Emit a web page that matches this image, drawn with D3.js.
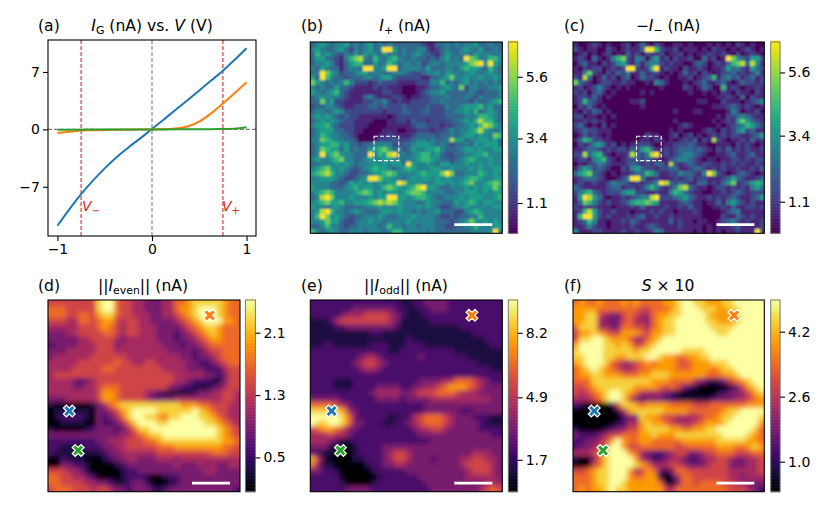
<!DOCTYPE html>
<html>
<head>
<meta charset="utf-8">
<script src="https://cdn.jsdelivr.net/npm/d3@7"></script>
<style>
body { margin: 0; background: white; }
svg text { font-family: "DejaVu Sans", sans-serif; fill: #000; white-space: pre; }
</style>
</head>
<body>
<div id="graph"></div>
<script>
const width = 830, height = 516;

// curves of panel (a)
const voltage  = [-1, -.875, -.75, -.625, -.5, -.375, -.25, -.125, 0, .125, .25, .375, .5, .625, .75, .875, 1];
const blueI    = [-11.75, -9.75, -7.9, -6.25, -4.75, -3.4, -2.2, -1.1, 0.05, 1.2, 2.4, 3.55, 4.75, 5.95, 7.15, 8.5, 9.9];
const orangeI  = [-.45, -.3, -.15, -.11, -.08, -.05, -.03, -.01, 0, .01, .1, .35, .95, 1.95, 3.15, 4.45, 5.75];
const greenI   = [-.03, -.03, -.03, -.02, -.02, -.01, -.01, -.01, 0, 0, .01, .01, .02, .03, .05, .08, .25];
const xTicksA = [-1, 0, 1], yTicksA = [-7, 0, 7];
const vMinus = -0.75, vPlus = 0.75;

// map levels 0-9, spanning each colorbar's range
const plusRows = [
"3454344534 3453434333 3332113343 4344533433",
"4543345324 3453499534 3344212343 3454353343",
"3645432435 3544353434 3453321354 3443544434",
"3553321467 8436435643 3433232453 4397644664",
"3445421356 6335346534 4342344344 4457895954",
"4354331344 3994459934 4443533344 3565543643",
"3497542334 5534433444 3223445354 4345434543",
"5396433233 3443455322 2221133457 4454454454",
"7543434642 2212322211 1122244634 3453434343",
"4343353321 1112121110 0011233454 3724433445",
"5434563211 1111122110 0012344533 3334323334",
"3454443211 1342111221 0112233343 3343243334",
"3374522111 1223342121 1222233433 3332433456",
"2334432112 2233232223 2222322243 3455564533",
"3443454222 2222212223 3223322233 4454634543",
"4545432322 1111110122 2222222233 3344466543",
"3454543221 1110001122 1322122223 3454686643",
"4556432221 1100001111 1233222122 3345468754",
"3455533221 1000011100 1122212234 3445685434",
"3465443321 0000112111 1233332334 3455454476",
"4476544332 0001222322 2344343348 5534455453",
"3455664533 2334444223 3455543432 3343545553",
"3476553534 3355675342 3544556433 3455454455",
"3495675443 3394658944 3456645322 3344556444",
"4544567443 3454455443 4456654332 3456544544",
"3344454543 4445454553 9544543553 4454454544",
"4567545432 3456554345 6544455445 4445454455",
"5678644322 3345567644 4456555797 3344465454",
"4455543223 4599755443 4545545454 4456654455",
"4444332354 5454545598 5454445545 4567445676",
"5444333456 4554467654 5689554334 4454545575",
"4567644445 6764545545 6776444433 4455545455",
"3489744454 4454559955 4566543344 4545554456",
"4567556445 5567878754 4434544333 5456545544",
"5443454333 3444544454 4454543223 4454444455",
"4589644345 4333455454 4343445333 2245654444",
"4697454323 3444543344 4544443223 2334464444",
"4457553223 4454434444 5444443332 3457545454",
"3346443233 4444346443 4434443322 3344644455",
"6434543344 4344434664 4444343333 3334444494"];

const minusRows = [
"1001210100 1201310210 0110100010 1010210100",
"2101100210 1211399621 1201110102 1101012101",
"0120101201 0312021120 1120101121 1210201210",
"1210310146 7214303512 0211200312 0197432552",
"0231102124 5213134421 2110023201 2136783841",
"1021220121 2992126912 1102112101 1253421532",
"1147210213 2411312210 1013120210 1223121241",
"2183013120 2301322101 0011201236 1342312312",
"7321012211 2110010431 0001012311 2310132212",
"1201242101 0100000010 0002101320 0612101121",
"2120231010 0000101000 0000100101 0210211021",
"1221310100 0000000000 0000000000 1121030211",
"1263210000 0011200000 0000001100 0211101234",
"0213101000 0000100000 0000000001 1123212101",
"1021320100 0000000000 0100011000 0014201120",
"2201101010 0000000000 0000000000 1022343211",
"1121211000 0000000000 0100000001 0121575321",
"2310102010 0000000000 0012100000 1012346532",
"1232211100 0000000000 1010000121 0212452311",
"0131210100 0000021100 1201201012 1212211235",
"1365221100 0000110210 1012130218 2101121312",
"0212453120 1012221001 1222321100 1110212101",
"1123321212 2132563112 1233323210 2131212112",
"2283562101 1283248912 1234432100 1123112311",
"1221456210 1223232101 2344321011 0112212122",
"0102243211 1232121331 8212321221 1212121121",
"1354232100 2145322122 3311233212 1211211213",
"3567321010 1123365311 2243321497 2101232101",
"1233321001 2499411211 1212312211 1235321123",
"1211211243 3212123498 3232113312 1357123565",
"3211111233 1221246421 2478321101 2212121453",
"2456321222 4552211211 4653211001 1212321222",
"1598531011 2123448922 2345321121 2123211235",
"1376421211 2356676511 1123211011 3145321211",
"2121211101 1121311112 1121311001 1213112212",
"1268521121 1101112121 1011121000 0123411111",
"1699521211 1212311211 2111111000 0211321211",
"1236411011 2132111111 3121101100 1234212112",
"1124211011 1121123211 1121111010 1112311112",
"4111221111 2112112431 1111101010 1011211192"];

const evenRows = [
"55555555 89965544 33344667 88888766",
"66655555 89965544 33344677 89998766",
"66655665 78865544 43344567 89998766",
"55544665 67754554 43333456 78999776",
"44444555 67654554 44333345 67887666",
"33344555 56654554 44333234 56787666",
"33333445 55543444 44333233 45677666",
"23333444 55534444 44433323 34566666",
"33344444 55544444 44443333 23455666",
"34444445 55555444 44444433 23345666",
"44444555 55565544 55444443 32234566",
"44445555 56655555 55544443 33222455",
"45555555 55555555 55555444 44332355",
"44443234 55555555 55555443 22211355",
"44443344 56665555 55553322 11123455",
"44444444 57765555 43211111 23344554",
"33344444 57765555 43333444 44444554",
"10000001 34678888 88888877 76655544",
"01111110 33457899 99888888 98765544",
"01222210 32346899 88768899 98876544",
"00111100 32234689 99889999 99887654",
"10000012 33323468 89999999 99998765",
"33333333 33334456 78899999 99998765",
"22222222 33444555 66788888 88888776",
"22111122 23344555 55666777 77777665",
"21111111 12334444 44555555 55566655",
"00211100 01233443 33444344 44444444",
"00332210 00012333 33333433 34343344",
"55544310 00001223 33333333 33443333",
"66554432 00001222 10012233 33333333",
"66555544 33211233 20001233 33333333",
"56665554 55433233 32123333 33333332"];

const oddRows = [
"22222222 22222221 12233332 22222222",
"22222223 33333322 11223332 22222222",
"22222344 45555432 11122222 22222222",
"11124555 55555431 11112222 22222222",
"11112233 33333321 11111111 12222222",
"11111111 11221111 11111111 11122222",
"11111111 11111111 21111111 11111222",
"11221111 11222111 22211111 11111122",
"22222222 22222112 22222222 11111111",
"22222222 34432222 22322222 22111111",
"22222223 45543222 22222222 22221111",
"22222222 34432222 22222222 22222211",
"22222222 22222222 22222222 22222222",
"22221112 22222222 22333344 66654322",
"22221112 22233332 23344567 77654333",
"22222222 22344443 34555666 54443333",
"33333222 22233332 33334444 44444433",
"66665432 22222222 22233333 33333333",
"88888743 22222222 22233333 32233333",
"99999863 22222112 24566654 33322211",
"98899863 32221122 34566654 33332111",
"56776533 22222222 23445543 33332222",
"44454432 22222222 22333333 33333322",
"44432112 22222222 22223333 33333333",
"33311001 22223333 33333333 33333333",
"22110001 22223455 43333333 33344433",
"74100001 12223455 43332333 34455443",
"63110000 01223344 33333333 34555543",
"33221000 00122222 33333333 33455543",
"22222000 00012222 22333333 33444443",
"22222100 00122222 22233333 33333444",
"22222233 33222222 22223333 33334565"];

const entropyRows = [
"67667666 76766667 78998877 78899999",
"77776666 66655666 78999888 77889999",
"77885433 56544677 88999987 77789999",
"77884333 56443678 89999988 77789999",
"68884433 66554678 89999998 88899999",
"57787655 77765778 89999999 88999999",
"58899877 76446789 99999999 99999999",
"79999887 87557899 99999999 99999999",
"89999888 88788999 99888899 99999999",
"88999887 78889987 76677889 99999999",
"78999865 44567677 76567778 88999999",
"67898765 44566777 76667776 78899999",
"67788777 66677888 77777766 67789999",
"66688888 88888777 66664321 23567899",
"55678888 88777765 65321000 00135789",
"54567899 87644443 21000000 12334578",
"44456899 85323332 21111112 33344567",
"21000015 88767777 66665556 66666777",
"00000001 47888887 77766666 67889999",
"00000000 23387765 54444566 78899998",
"00000001 24478776 54445677 78999997",
"10000123 35578888 77667788 99999986",
"32223455 66677877 78888888 89999876",
"22334579 76677666 66777777 88888776",
"23345699 75566666 65566666 77766787",
"44456899 97643223 45533455 66655566",
"10036899 99743223 44322344 55433445",
"00056899 99876444 55433345 55333445",
"55678899 97457631 36655555 55444445",
"66678899 97667710 14665555 55443444",
"66678899 87777761 03665666 65544333",
"67677898 87777775 46666666 66555432"];

// colorbar ranges and ticks
const plusRange = [0.02, 6.84], plusTicks = [1.1, 3.4, 5.6];
const minusRange = [0, 6.66], minusTicks = [1.1, 3.4, 5.6];
const evenRange = [0.06, 2.52], evenTicks = [0.5, 1.3, 2.1];
const oddRange = [0.07, 9.88], oddTicks = [1.7, 4.9, 8.2];
const entropyRange = [0.26, 4.98], entropyTicks = [1.0, 2.6, 4.2];

// markers, dashed box and scale bar in fractions of the map
const markers = [
  {u: .111, v: .579, color: "#1f77b4"},
  {u: .842, v: .080, color: "#ff7f0e"},
  {u: .157, v: .785, color: "#2ca02c"}
];
const boxU = [.332, .461], boxV = [.493, .620];
const barU = [.750, .948], barV = .955;

const svg = d3.select("#graph").append("svg")
    .attr("width", width)
    .attr("height", height);

const defs = svg.append("defs");
const fontSize = 14, titleSize = 15.6;

function addBlur(id, sd) {
    defs.append("filter").attr("id", id)
        .attr("x", "-10%").attr("y", "-10%").attr("width", "120%").attr("height", "120%")
        .append("feGaussianBlur").attr("stdDeviation", sd);
}
addBlur("blurFine", 1.2);
addBlur("blurCoarse", 2.4);

// parts: [text, "i" italic | "s" subscript | "n"]
function richText(x, y, parts, size, color, anchor) {
    const t = svg.append("text")
        .attr("x", x).attr("y", y)
        .attr("text-anchor", anchor || "middle")
        .style("font-size", size + "px");
    if (color) t.style("fill", color);
    let low = false;
    parts.forEach(p => {
        const sub = p[1] === "s";
        const s = t.append("tspan").text(p[0]);
        if (color) s.style("fill", color);
        if (p[1] === "i") s.style("font-style", "italic");
        if (sub) s.style("font-size", (size * 0.7) + "px");
        if (sub !== low) s.attr("dy", sub ? size * 0.2 : -size * 0.2);
        low = sub;
    });
}

function styleAxis(g) {
    g.selectAll("path").attr("stroke", "#000").attr("stroke-width", 1.1);
    g.selectAll("line").attr("stroke", "#000").attr("stroke-width", 1.1);
    g.selectAll("text").style("font-size", fontSize + "px");
}

// panel (a)
function drawCurves() {
    const left = 48, right = 256, top = 40, bottom = 236;
    const x = d3.scaleLinear().domain([-1.1, 1.1]).range([left, right]);
    const y = d3.scaleLinear().domain([-13, 10.9]).range([bottom, top]);

    const refs = svg.append("g").attr("fill", "none").attr("stroke-width", 1.1);
    refs.append("line").attr("x1", left).attr("x2", right).attr("y1", y(0)).attr("y2", y(0))
        .attr("stroke", "#7f7f7f").attr("stroke-dasharray", "4,2");
    refs.append("line").attr("x1", x(0)).attr("x2", x(0)).attr("y1", top).attr("y2", bottom)
        .attr("stroke", "#7f7f7f").attr("stroke-dasharray", "4,2");
    [vMinus, vPlus].forEach(v => {
        refs.append("line").attr("x1", x(v)).attr("x2", x(v)).attr("y1", top).attr("y2", bottom)
            .attr("stroke", "#d62728").attr("stroke-dasharray", "4,2");
    });

    const line = d3.line()
        .x(d => x(d[0]))
        .y(d => y(d[1]))
        .curve(d3.curveMonotoneX);
    [[blueI, "#1f77b4"], [orangeI, "#ff7f0e"], [greenI, "#2ca02c"]].forEach(s => {
        svg.append("path")
            .attr("d", line(d3.zip(voltage, s[0])))
            .attr("fill", "none")
            .attr("stroke", s[1])
            .attr("stroke-width", 2);
    });

    svg.append("rect").attr("x", left).attr("y", top)
        .attr("width", right - left).attr("height", bottom - top)
        .attr("fill", "none").attr("stroke", "#000").attr("stroke-width", 1.1);

    svg.append("g").attr("transform", `translate(0,${bottom})`)
        .call(d3.axisBottom(x).tickValues(xTicksA).tickSize(5).tickPadding(3)
            .tickFormat(d => d3.format("d")(d).replace("-", "\u2212")))
        .call(styleAxis).call(g => g.select(".domain").remove());
    svg.append("g").attr("transform", `translate(${left},0)`)
        .call(d3.axisLeft(y).tickValues(yTicksA).tickSize(5).tickPadding(3)
            .tickFormat(d => d3.format("d")(d).replace("-", "\u2212")))
        .call(styleAxis).call(g => g.select(".domain").remove());

    richText(x(vMinus) + 1, y(-10), [["V", "i"], ["\u2212", "s"]], 14, "#d62728", "start");
    richText(x(vPlus) - 1, y(-10), [["V", "i"], ["+", "s"]], 14, "#d62728", "start");
}

// one map panel with its colorbar
function drawMap(opt) {
    const rows = opt.rows.map(r => r.replace(/ /g, ""));
    const nRows = rows.length, nCols = rows[0].length;
    const size = opt.size, px = opt.x, py = opt.y;
    const xBand = d3.scaleBand().domain(d3.range(nCols)).range([px, px + size]);
    const yBand = d3.scaleBand().domain(d3.range(nRows)).range([py, py + opt.sizeY]);
    const level = d3.scaleLinear().domain([0, 9]).range(opt.range);
    const color = d3.scaleSequential(opt.cmap).domain(opt.range);
    const u = d3.scaleLinear().domain([0, 1]).range([px, px + size]);
    const v = d3.scaleLinear().domain([0, 1]).range([py, py + opt.sizeY]);

    const cells = [];
    rows.forEach((r, j) => r.split("").forEach((c, i) => cells.push({i, j, value: level(+c)})));

    const clipId = "clip" + opt.id;
    defs.append("clipPath").attr("id", clipId).append("rect")
        .attr("x", px).attr("y", py).attr("width", size).attr("height", opt.sizeY);

    // edge cells run past the frame so the blur does not fade at the border
    const pad = 12;
    svg.append("g").attr("clip-path", `url(#${clipId})`)
        .append("g").attr("filter", `url(#${opt.blur})`)
        .selectAll("rect").data(cells).join("rect")
        .attr("x", d => xBand(d.i) - (d.i === 0 ? pad : 0))
        .attr("y", d => yBand(d.j) - (d.j === 0 ? pad : 0))
        .attr("width", d => xBand.bandwidth() + 0.6 + (d.i === 0 || d.i === nCols - 1 ? pad : 0))
        .attr("height", d => yBand.bandwidth() + 0.6 + (d.j === 0 || d.j === nRows - 1 ? pad : 0))
        .attr("shape-rendering", "crispEdges")
        .attr("fill", d => color(d.value));

    svg.append("rect").attr("x", px).attr("y", py).attr("width", size).attr("height", opt.sizeY)
        .attr("fill", "none").attr("stroke", "#000").attr("stroke-width", 1.1);

    if (opt.box) {
        svg.append("rect")
            .attr("x", u(boxU[0])).attr("y", v(boxV[0]))
            .attr("width", u(boxU[1]) - u(boxU[0])).attr("height", v(boxV[1]) - v(boxV[0]))
            .attr("fill", "none").attr("stroke", "white").attr("stroke-width", 1.1)
            .attr("stroke-dasharray", "4,2");
    }

    svg.append("line")
        .attr("x1", u(barU[0])).attr("x2", u(barU[1]))
        .attr("y1", v(barV)).attr("y2", v(barV))
        .attr("stroke", "white").attr("stroke-width", 2.8);

    if (opt.markers) {
        const symbol = d3.symbol().type(d3.symbolCross).size(88);
        svg.selectAll(null).data(markers).enter().append("path")
            .attr("d", symbol)
            .attr("transform", d => `translate(${u(d.u)},${v(d.v)}) rotate(45)`)
            .attr("fill", d => d.color)
            .attr("stroke", "white").attr("stroke-width", 1.2);
    }

    // colorbar
    const cbX = px + size + opt.cbGap, cbW = opt.cbW;
    const cbY = d3.scaleLinear().domain(opt.range).range([py + opt.sizeY, py]);
    const steps = d3.range(0, 128).map(k => opt.range[0] + (opt.range[1] - opt.range[0]) * k / 127);
    const stepH = opt.sizeY / 127;
    svg.append("g").selectAll("rect").data(steps).join("rect")
        .attr("x", cbX).attr("width", cbW)
        .attr("y", d => cbY(d) - stepH).attr("height", stepH + 0.5)
        .attr("fill", d => color(d));
    svg.append("rect").attr("x", cbX).attr("y", py).attr("width", cbW).attr("height", opt.sizeY)
        .attr("fill", "none").attr("stroke", "#777").attr("stroke-width", 1);
    svg.append("g").attr("transform", `translate(${cbX + cbW},0)`)
        .call(d3.axisRight(cbY).tickValues(opt.ticks).tickSize(5).tickPadding(3).tickFormat(d3.format(".1f")))
        .call(styleAxis).call(g => g.select(".domain").remove());
}

drawCurves();

const topY = 42, topH = 191.3, botY = 300, botH = 191.7;
drawMap({id: "b", rows: plusRows, cmap: d3.interpolateViridis, range: plusRange, ticks: plusTicks,
    x: 310.3, y: topY, size: 192, sizeY: topH, cbGap: 6, cbW: 9.4, blur: "blurFine", box: true});
drawMap({id: "c", rows: minusRows, cmap: d3.interpolateViridis, range: minusRange, ticks: minusTicks,
    x: 573, y: topY, size: 191.3, sizeY: topH, cbGap: 6.4, cbW: 9.4, blur: "blurFine", box: true});
drawMap({id: "d", rows: evenRows, cmap: d3.interpolateInferno, range: evenRange, ticks: evenTicks,
    x: 48, y: botY, size: 192, sizeY: botH, cbGap: 5.4, cbW: 10, blur: "blurCoarse", markers: true});
drawMap({id: "e", rows: oddRows, cmap: d3.interpolateInferno, range: oddRange, ticks: oddTicks,
    x: 310.3, y: botY, size: 192, sizeY: botH, cbGap: 6, cbW: 9.4, blur: "blurCoarse", markers: true});
drawMap({id: "f", rows: entropyRows, cmap: d3.interpolateInferno, range: entropyRange, ticks: entropyTicks,
    x: 573, y: botY, size: 191.3, sizeY: botH, cbGap: 6.4, cbW: 9.4, blur: "blurCoarse", markers: true});

// panel letters and titles
[["(a)", 38, 31], ["(b)", 301, 31], ["(c)", 564, 31], ["(d)", 38, 291], ["(e)", 301, 291], ["(f)", 564, 291]]
    .forEach(l => richText(l[1], l[2], [[l[0], "n"]], titleSize, null, "start"));

richText(152, 31, [["I", "i"], ["G", "s"], [" (nA) vs. ", "n"], ["V", "i"], [" (V)", "n"]], titleSize);
richText(405, 31, [["I", "i"], ["+", "s"], [" (nA)", "n"]], titleSize);
richText(668, 31, [["\u2212", "n"], ["I", "i"], ["\u2212", "s"], [" (nA)", "n"]], titleSize);
richText(143, 291, [["||", "n"], ["I", "i"], ["even", "s"], ["|| (nA)", "n"]], titleSize);
richText(406, 291, [["||", "n"], ["I", "i"], ["odd", "s"], ["|| (nA)", "n"]], titleSize);
richText(668, 291, [["S", "i"], [" \u00d7 10", "n"]], titleSize);
</script>
</body>
</html>
